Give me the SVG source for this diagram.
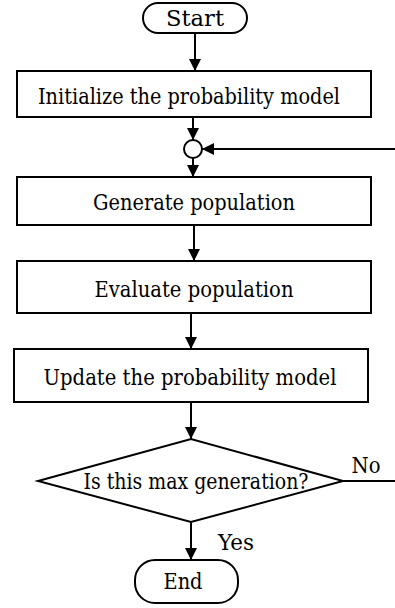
<svg xmlns="http://www.w3.org/2000/svg" width="395" height="608" viewBox="0 0 395 608">
<style>
.s{fill:#fff;stroke:#000;stroke-width:2}
.t{font-family:'DejaVu Serif', serif;font-size:22px;fill:#000;text-anchor:middle}
.c{fill:none;stroke:#000;stroke-width:2}
</style>
<defs>
<marker id="a" markerWidth="12" markerHeight="12" viewBox="0 0 12 12" refX="12" refY="6" orient="auto" markerUnits="userSpaceOnUse">
<path d="M0,0 L12,6 L0,12 Z" fill="#000"/>
</marker>
</defs>
<g id="start"><rect class="s" x="143" y="3" width="104" height="30" rx="15"/><text class="t" x="195" y="26" textLength="58" lengthAdjust="spacingAndGlyphs">Start</text></g>
<g id="init"><rect class="s" x="17" y="71" width="354" height="46"/><text class="t" x="189" y="104" textLength="302" lengthAdjust="spacingAndGlyphs">Initialize the probability model</text></g>
<g id="merge"><circle class="s" cx="193" cy="149" r="9"/></g>
<g id="generate"><rect class="s" x="17" y="177" width="354" height="48"/><text class="t" x="194" y="210" textLength="202" lengthAdjust="spacingAndGlyphs">Generate population</text></g>
<g id="evaluate"><rect class="s" x="17" y="261" width="354" height="52"/><text class="t" x="194" y="297" textLength="199" lengthAdjust="spacingAndGlyphs">Evaluate population</text></g>
<g id="update"><rect class="s" x="14" y="349" width="354" height="53"/><text class="t" x="190" y="385" textLength="293" lengthAdjust="spacingAndGlyphs">Update the probability model</text></g>
<g id="decision"><polygon class="s" points="38,481 191,439 343,481 191,522"/><text class="t" x="196" y="489" textLength="225" lengthAdjust="spacingAndGlyphs">Is this max generation?</text></g>
<g id="end"><rect class="s" x="135" y="560" width="103" height="43" rx="20"/><text class="t" x="183" y="589" textLength="39" lengthAdjust="spacingAndGlyphs">End</text></g>
<g id="connectors">
<line class="c" x1="195" y1="33" x2="195" y2="71" marker-end="url(#a)"/>
<line class="c" x1="193" y1="117" x2="193" y2="140" marker-end="url(#a)"/>
<line class="c" x1="193" y1="158" x2="193" y2="177" marker-end="url(#a)"/>
<line class="c" x1="395" y1="149" x2="202" y2="149" marker-end="url(#a)"/>
<line class="c" x1="194" y1="225" x2="194" y2="261" marker-end="url(#a)"/>
<line class="c" x1="191" y1="313" x2="191" y2="349" marker-end="url(#a)"/>
<line class="c" x1="191" y1="402" x2="191" y2="439" marker-end="url(#a)"/>
<line class="c" x1="191" y1="522" x2="191" y2="560" marker-end="url(#a)"/>
<line class="c" x1="343" y1="481" x2="395" y2="481"/>
<text class="t" x="366" y="473" textLength="29" lengthAdjust="spacingAndGlyphs">No</text>
<text class="t" x="236" y="550" textLength="36" lengthAdjust="spacingAndGlyphs">Yes</text>
</g>
</svg>
